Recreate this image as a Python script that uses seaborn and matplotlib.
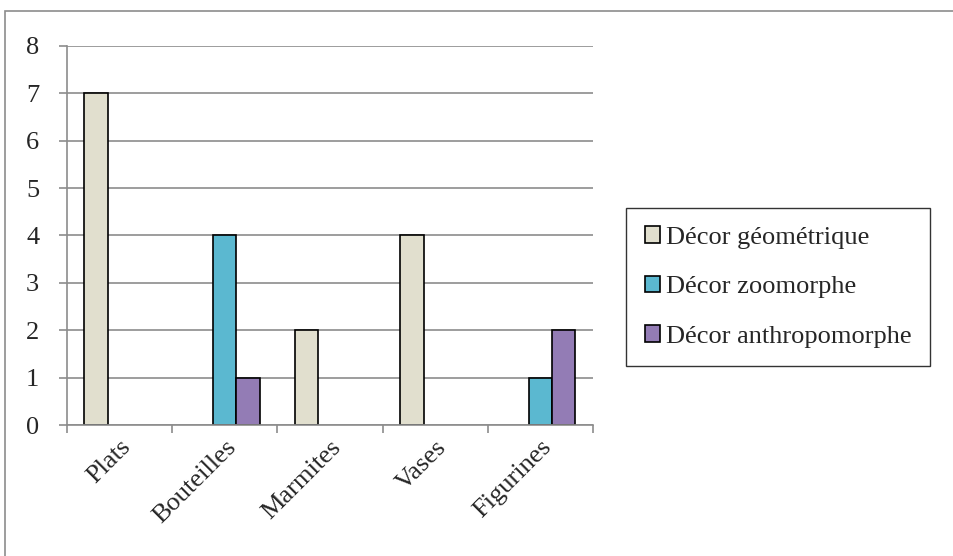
import pandas as pd
import numpy as np
import matplotlib
matplotlib.use("Agg")
import matplotlib.pyplot as plt
import seaborn as sns
from matplotlib.patches import Rectangle

# Données
categories = ['Plats', 'Bouteilles', 'Marmites', 'Vases', 'Figurines']
series = ['Décor géométrique', 'Décor zoomorphe', 'Décor anthropomorphe']
geometrique = [7, 0, 2, 4, 0]
zoomorphe = [0, 4, 0, 0, 1]
anthropomorphe = [0, 1, 0, 0, 2]
couleurs = ['#E1DFCE', '#5BB8D0', '#937CB5']

# Tableau long pour seaborn
rows = []
for serie, valeurs in zip(series, [geometrique, zoomorphe, anthropomorphe]):
    for cat, v in zip(categories, valeurs):
        rows.append({'categorie': cat, 'serie': serie, 'valeur': v})
df = pd.DataFrame(rows)
df_visible = df[df['valeur'] > 0]

sns.set_style("white")
plt.rcParams['font.family'] = ['Liberation Serif', 'DejaVu Serif']
taille = 19

fig = plt.figure(figsize=(9.54, 5.56), dpi=100)
ax = fig.add_axes([0.0702, 0.2356, 0.5514, 0.6817])

sns.barplot(data=df_visible, x='categorie', y='valeur', hue='serie',
            order=categories, hue_order=series, palette=couleurs,
            width=0.667, edgecolor='black', linewidth=1.2, ax=ax,
            errorbar=None, saturation=1)

ax.set_xlim(-0.5, len(categories) - 0.5)
ax.set_ylim(0, 8)
ax.set_yticks(range(0, 9))
ax.set_xlabel('')
ax.set_ylabel('')
ax.yaxis.grid(True, color='#8c8c8c', linewidth=1.2)
ax.set_axisbelow(True)
for s in ['top', 'right']:
    ax.spines[s].set_visible(False)
for s in ['left', 'bottom']:
    ax.spines[s].set_color('#8c8c8c')
    ax.spines[s].set_linewidth(1.2)

# graduations de l'axe x entre les catégories
ax.set_xticks(np.arange(-0.5, len(categories)), minor=True)
ax.set_xticks(range(len(categories)))
ax.set_xticklabels(categories, rotation=45, ha='right', rotation_mode='anchor',
                   fontsize=taille)
ax.tick_params(axis='x', which='major', length=0, pad=8)
ax.tick_params(axis='x', which='minor', length=6, color='#8c8c8c', width=1.2,
               direction='out', bottom=True)
ax.tick_params(axis='y', length=6, color='#8c8c8c', width=1.2, direction='out',
               left=True, labelsize=taille, pad=14)

leg = ax.legend(loc='center left', bbox_to_anchor=(1.063, 0.364), fontsize=taille,
                frameon=True, fancybox=False, edgecolor='black',
                handlelength=0.6, handleheight=0.6, handletextpad=0.2,
                labelspacing=1.02, borderpad=0.7, borderaxespad=0)
leg.get_frame().set_linewidth(1.0)

# cadre extérieur
fig.patches.append(Rectangle((0.005, -0.05), 1.1, 1.03, transform=fig.transFigure,
                             fill=False, edgecolor='#8c8c8c', linewidth=1.2))

fig.savefig('out.png', dpi=100)
